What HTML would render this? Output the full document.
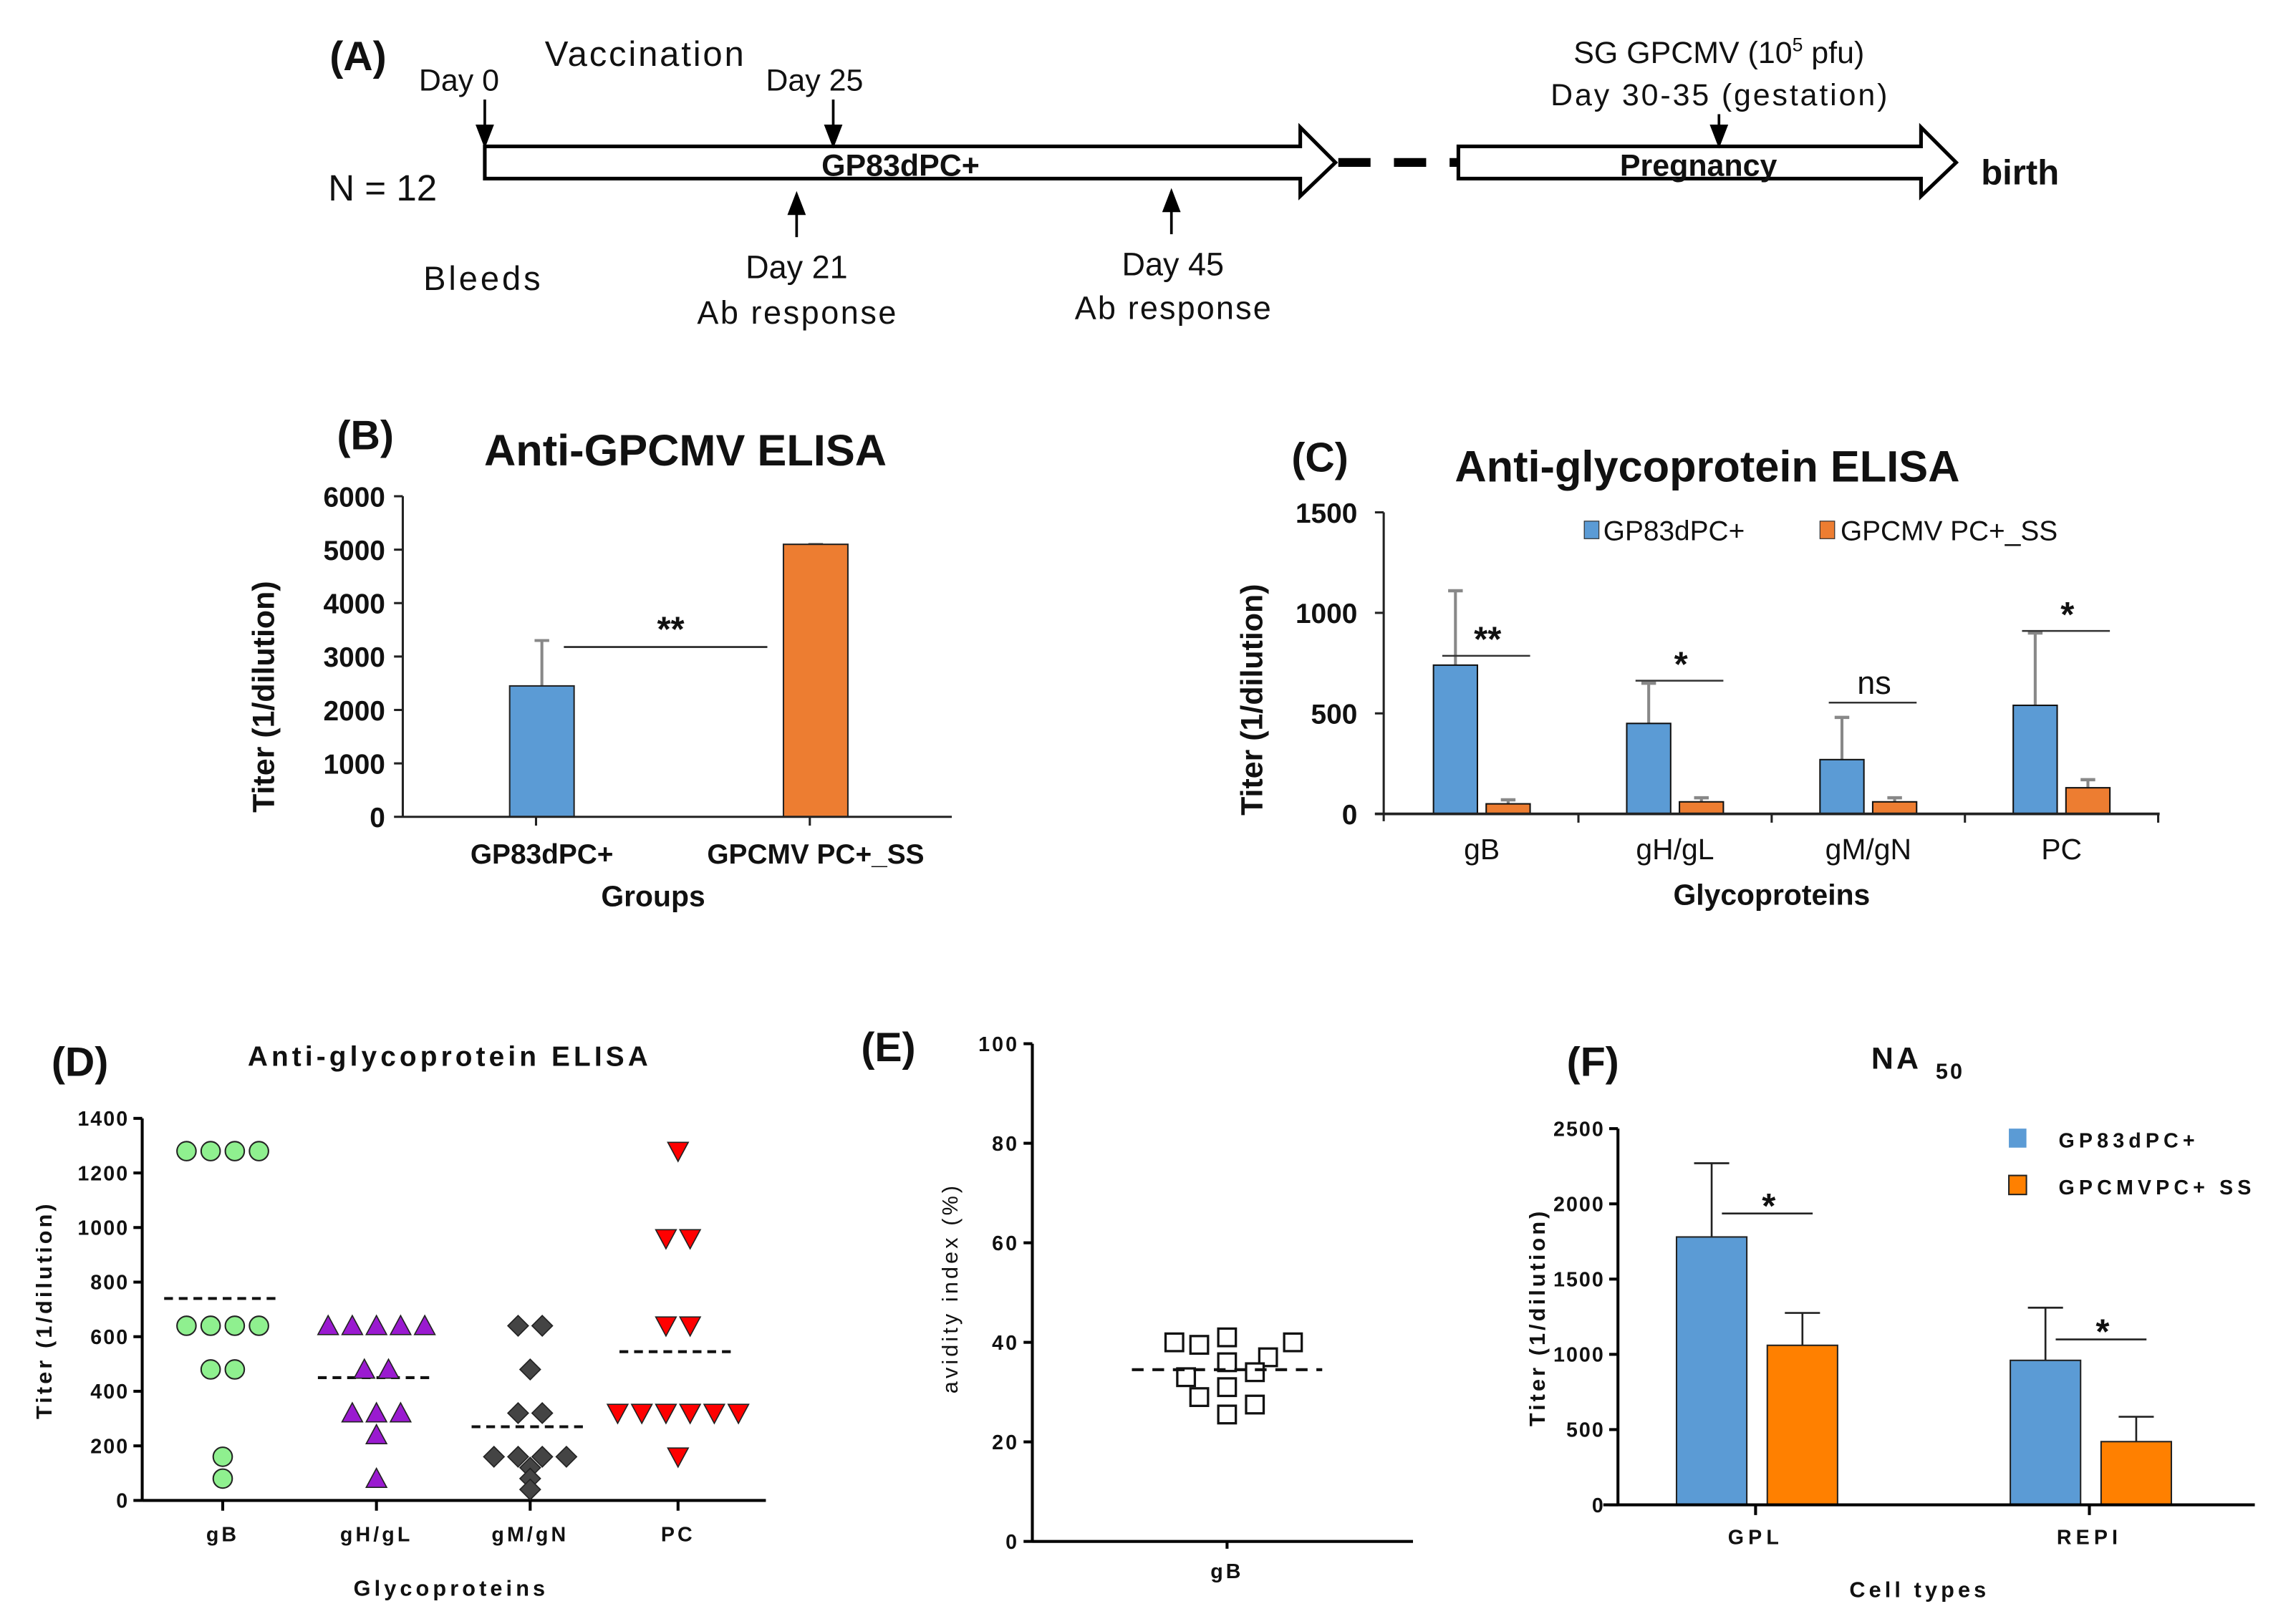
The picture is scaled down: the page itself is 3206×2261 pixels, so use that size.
<!DOCTYPE html>
<html><head><meta charset="utf-8"><style>
html,body{margin:0;padding:0;background:#fff}
svg{display:block}
text{font-family:"Liberation Sans",Arial,sans-serif;fill:#111}
</style></head><body>
<svg id="fig" width="3206" height="2261" viewBox="0 0 1568 1106" xmlns="http://www.w3.org/2000/svg">
<g>
<text x="225" y="48" font-size="28" font-weight="bold">(A)</text>
<text x="286" y="62" font-size="21">Day 0</text>
<text x="372" y="45" font-size="24" textLength="136">Vaccination</text>
<text x="523" y="62" font-size="21">Day 25</text>
<text x="224" y="137" font-size="25">N = 12</text>
<text x="289" y="198" font-size="23" textLength="80">Bleeds</text>
<text x="544" y="190" font-size="22" text-anchor="middle">Day 21</text>
<text x="544" y="221" font-size="22" text-anchor="middle" textLength="136">Ab response</text>
<text x="801" y="188" font-size="22" text-anchor="middle">Day 45</text>
<text x="801" y="218" font-size="22" text-anchor="middle" textLength="134">Ab response</text>
<text x="1174" y="43" font-size="21" text-anchor="middle">SG GPCMV (10<tspan font-size="13" dy="-8">5</tspan><tspan dy="8"> pfu)</tspan></text>
<text x="1174" y="72" font-size="21" text-anchor="middle" textLength="230">Day 30-35 (gestation)</text>
<path d="M331,100 L888,100 L888,87 L912,111 L888,134 L888,122 L331,122 Z" fill="#fff" stroke="#000" stroke-width="2.5"/>
<text x="615" y="120" font-size="21" font-weight="bold" text-anchor="middle">GP83dPC+</text>
<line x1="914" y1="111" x2="996" y2="111" stroke="#000" stroke-width="6" stroke-dasharray="22,16"/>
<path d="M996,100 L1312,100 L1312,87 L1336,111 L1312,134 L1312,122 L996,122 Z" fill="#fff" stroke="#000" stroke-width="2.5"/>
<text x="1160" y="120" font-size="21" font-weight="bold" text-anchor="middle">Pregnancy</text>
<text x="1353" y="126" font-size="24" font-weight="bold">birth</text>
<g stroke="#000" stroke-width="1.8" fill="#000">
<line x1="331" y1="68" x2="331" y2="90"/><path d="M326,86 L336,86 L331,99 Z"/>
<line x1="569" y1="68" x2="569" y2="90"/><path d="M564,86 L574,86 L569,99 Z"/>
<line x1="1174" y1="78" x2="1174" y2="90"/><path d="M1169,86 L1179,86 L1174,99 Z"/>
<line x1="544" y1="162" x2="544" y2="142"/><path d="M539,146 L549,146 L544,133 Z"/>
<line x1="800" y1="160" x2="800" y2="140"/><path d="M795,144 L805,144 L800,131 Z"/>
</g>
</g>
<g id="pB"></g>
<g id="pC"></g>
<g id="pD"></g>
<g id="pE"></g>
<g id="pF"></g>
</svg>
<script>
// ---- Panel B data
const bGroups = ["GP83dPC+", "GPCMV PC+_SS"];
const bMeans = [2450, 5100];
const bErrors = [850, 0];
const bTicks = [0, 1000, 2000, 3000, 4000, 5000, 6000];
// ---- Panel C data
const cCategories = ["gB", "gH/gL", "gM/gN", "PC"];
const cBlue = [740, 450, 270, 540];
const cBlueErr = [370, 200, 210, 360];
const cOrange = [50, 60, 60, 130];
const cOrangeErr = [20, 20, 20, 40];
const cSig = ["**", "*", "ns", "*"];
const cTicks = [0, 500, 1000, 1500];
// ---- Panel D data
const dCategories = ["gB", "gH/gL", "gM/gN", "PC"];
const dGB = [1280, 1280, 1280, 1280, 640, 640, 640, 640, 480, 480, 160, 80];
const dGH = [640, 640, 640, 640, 640, 480, 480, 320, 320, 320, 240, 80];
const dGM = [640, 640, 480, 320, 320, 160, 160, 160, 160, 120, 80, 40];
const dPC = [1280, 960, 960, 640, 640, 320, 320, 320, 320, 320, 320, 160];
const dMeans = [740, 450, 270, 545];
const dTicks = [0, 200, 400, 600, 800, 1000, 1200, 1400];
// ---- Panel E data
const eValues = [40, 39.5, 41, 40, 36, 37, 33, 34, 29, 31, 27.5, 25.5];
const eMean = 34.5;
const eTicks = [0, 20, 40, 60, 80, 100];
// ---- Panel F data
const fCategories = ["GPL", "REPI"];
const fBlue = [1780, 960];
const fBlueErr = [490, 350];
const fOrange = [1060, 420];
const fOrangeErr = [215, 165];
const fTicks = [0, 500, 1000, 1500, 2000, 2500];

const NS = "http://www.w3.org/2000/svg";
function mk(parent, tag, attrs, txt) {
  const e = document.createElementNS(NS, tag);
  for (const k in attrs) e.setAttribute(k, attrs[k]);
  if (txt !== undefined) e.textContent = txt;
  parent.appendChild(e);
  return e;
}
const BLUE = "#5b9bd5", ORANGE = "#ed7d31", ORANGE2 = "#ff8000";

// ================= Panel B
(function () {
  const g = document.getElementById("pB");
  const x0 = 275, x1 = 650, yTop = 339, yBot = 558, max = 6000;
  const y = v => yBot - (v / max) * (yBot - yTop);
  const cx = [370, 557];
  let t = mk(g, "text", {x: 230, y: 307, "font-size": 28, "font-weight": "bold"}, "(B)");
   
  t = mk(g, "text", {x: 468, y: 318, "font-size": 30, "font-weight": "bold", "text-anchor": "middle"}, "Anti-GPCMV ELISA");
   
  bGroups.forEach((name, i) => {
    const bx = cx[i] - 22, w = 44;
    const col = i === 0 ? BLUE : ORANGE;
    mk(g, "line", {x1: cx[i], x2: cx[i], y1: y(bMeans[i]), y2: y(bMeans[i] + bErrors[i]), stroke: "#888", "stroke-width": 2});
    mk(g, "line", {x1: cx[i] - 5, x2: cx[i] + 5, y1: y(bMeans[i] + bErrors[i]), y2: y(bMeans[i] + bErrors[i]), stroke: "#888", "stroke-width": 2});
    const r = mk(g, "rect", {x: bx, y: y(bMeans[i]), width: w, height: yBot - y(bMeans[i]), fill: col, stroke: "#222", "stroke-width": 1});
    
    
    const lb = mk(g, "text", {x: cx[i], y: 590, "font-size": 19, "font-weight": "bold", "text-anchor": "middle"}, name);
     
    mk(g, "line", {x1: cx[i] - 4, x2: cx[i] - 4, y1: yBot, y2: yBot + 6, stroke: "#222", "stroke-width": 1.5});
  });
  mk(g, "line", {x1: 385, x2: 524, y1: 442, y2: 442, stroke: "#222", "stroke-width": 1.3});
  t = mk(g, "text", {x: 458, y: 438, "font-size": 24, "font-weight": "bold", "text-anchor": "middle"}, "**");
   
  mk(g, "line", {x1: x0, x2: x0, y1: yTop, y2: yBot, stroke: "#222", "stroke-width": 1.5});
  mk(g, "line", {x1: x0, x2: x1, y1: yBot, y2: yBot, stroke: "#222", "stroke-width": 1.5});
  bTicks.forEach(v => {
    mk(g, "line", {x1: x0 - 6, x2: x0, y1: y(v), y2: y(v), stroke: "#222", "stroke-width": 1.5});
    const tl = mk(g, "text", {x: x0 - 12, y: y(v) + 7, "font-size": 19, "font-weight": "bold", "text-anchor": "end"}, v);
     
  });
  t = mk(g, "text", {x: 446, y: 619, "font-size": 20, "font-weight": "bold", "text-anchor": "middle"}, "Groups");
   
  t = mk(g, "text", {transform: "translate(187,476) rotate(-90)", "font-size": 21, "font-weight": "bold", "text-anchor": "middle"}, "Titer (1/dilution)");
   
})();

// ================= Panel C
(function () {
  const g = document.getElementById("pC");
  const x0 = 945, x1 = 1475, yTop = 350, yBot = 556, max = 1500;
  const y = v => yBot - (v / max) * (yBot - yTop);
  const step = 132, first = 1012;
  let t = mk(g, "text", {x: 882, y: 322, "font-size": 28, "font-weight": "bold"}, "(C)");
   
  t = mk(g, "text", {x: 1166, y: 329, "font-size": 30, "font-weight": "bold", "text-anchor": "middle"}, "Anti-glycoprotein ELISA");
   
  let lg = mk(g, "rect", {x: 1082, y: 356, width: 10, height: 12, fill: BLUE, stroke: "#333", "stroke-width": 0.6});
   
  lg = mk(g, "text", {x: 1095, y: 369, "font-size": 19}, "GP83dPC+");
   
  lg = mk(g, "rect", {x: 1243, y: 356, width: 10, height: 12, fill: ORANGE, stroke: "#333", "stroke-width": 0.6});
   
  lg = mk(g, "text", {x: 1257, y: 369, "font-size": 19}, "GPCMV PC+_SS");
   
  const sigY = [448, 465, 480, 431];
  cCategories.forEach((c, i) => {
    const cx = first + i * step;
    const bars = [[cx - 33, cBlue[i], cBlueErr[i], BLUE], [cx + 3, cOrange[i], cOrangeErr[i], ORANGE]];
    bars.forEach(([bx, v, e, col], j) => {
      const w = 30, mx = bx + w / 2;
      mk(g, "line", {x1: mx, x2: mx, y1: y(v), y2: y(v + e), stroke: "#888", "stroke-width": 2});
      mk(g, "line", {x1: mx - 5, x2: mx + 5, y1: y(v + e), y2: y(v + e), stroke: "#888", "stroke-width": 2.2});
      const r = mk(g, "rect", {x: bx, y: y(v), width: w, height: yBot - y(v), fill: col, stroke: "#111", "stroke-width": 1});
      
      
    });
    const sy = sigY[i];
    mk(g, "line", {x1: cx - 27, x2: cx + 33, y1: sy, y2: sy, stroke: "#333", "stroke-width": 1.2});
    const s = mk(g, "text", {x: cx + 4, y: cSig[i] === "ns" ? sy - 6 : sy - 3, "font-size": cSig[i] === "ns" ? 22 : 24, "font-weight": cSig[i] === "ns" ? "normal" : "bold", "text-anchor": "middle"}, cSig[i]);
     
    const lb = mk(g, "text", {x: cx, y: 587, "font-size": 20, "text-anchor": "middle"}, c);
     
    mk(g, "line", {x1: cx + step / 2, x2: cx + step / 2, y1: yBot, y2: yBot + 6, stroke: "#222", "stroke-width": 1.5});
  });
  mk(g, "line", {x1: x0, x2: x0, y1: yTop, y2: yBot + 5, stroke: "#222", "stroke-width": 1.5});
  mk(g, "line", {x1: x0 - 6, x2: x1, y1: yBot, y2: yBot, stroke: "#222", "stroke-width": 1.8});
  cTicks.forEach(v => {
    mk(g, "line", {x1: x0 - 6, x2: x0, y1: y(v), y2: y(v), stroke: "#222", "stroke-width": 1.5});
    const tl = mk(g, "text", {x: x0 - 18, y: y(v) + 7, "font-size": 19, "font-weight": "bold", "text-anchor": "end"}, v);
     
  });
  t = mk(g, "text", {x: 1210, y: 618, "font-size": 20, "font-weight": "bold", "text-anchor": "middle"}, "Glycoproteins");
   
  t = mk(g, "text", {transform: "translate(862,478) rotate(-90)", "font-size": 21, "font-weight": "bold", "text-anchor": "middle"}, "Titer (1/dilution)");
   
})();

// ================= Panel D
(function () {
  const g = document.getElementById("pD");
  const x0 = 97, x1 = 523, yTop = 764, yBot = 1025, max = 1400;
  const y = v => yBot - (v / max) * (yBot - yTop);
  const cxs = [152, 257, 362, 463];
  const series = [dGB, dGH, dGM, dPC];
  const sp = 16.5;
  let t = mk(g, "text", {x: 35, y: 735, "font-size": 28, "font-weight": "bold"}, "(D)");
   
  t = mk(g, "text", {x: 307, y: 728, "font-size": 19, "font-weight": "bold", "text-anchor": "middle", "letter-spacing": "2.5"}, "Anti-glycoprotein ELISA");
   
  mk(g, "line", {x1: x0, x2: x0, y1: yTop, y2: yBot, stroke: "#000", "stroke-width": 2});
  mk(g, "line", {x1: x0, x2: x1, y1: yBot, y2: yBot, stroke: "#000", "stroke-width": 2});
  dTicks.forEach(v => {
    mk(g, "line", {x1: x0 - 6, x2: x0, y1: y(v), y2: y(v), stroke: "#000", "stroke-width": 2});
    const tl = mk(g, "text", {x: x0 - 9, y: y(v) + 5, "font-size": 14, "font-weight": "bold", "text-anchor": "end", "letter-spacing": "1"}, v);
     
  });
  series.forEach((vals, i) => {
    const cx = cxs[i];
    const counts = {}, seen = {};
    vals.forEach(v => counts[v] = (counts[v] || 0) + 1);
    mk(g, "line", {x1: cx, x2: cx, y1: yBot, y2: yBot + 7, stroke: "#000", "stroke-width": 2});
    const lb = mk(g, "text", {x: cx, y: 1053, "font-size": 14, "font-weight": "bold", "text-anchor": "middle", "letter-spacing": "2"}, dCategories[i]);
     
    const m = mk(g, "line", {x1: cx - 40, x2: cx + 40, y1: y(dMeans[i]), y2: y(dMeans[i]), stroke: "#111", "stroke-width": 2, "stroke-dasharray": "6,4"});
    
    
    vals.forEach(v => {
      const k = seen[v] = (seen[v] === undefined ? 0 : seen[v] + 1);
      const px = cx + (k - (counts[v] - 1) / 2) * sp, py = y(v);
      let el;
      if (i === 0) el = mk(g, "circle", {cx: px, cy: py, r: 6.5, fill: "#8ff08f", stroke: "#222", "stroke-width": 1});
      else if (i === 1) el = mk(g, "path", {d: `M${px - 7},${py + 6} L${px + 7},${py + 6} L${px},${py - 7} Z`, fill: "#9a1ad0", stroke: "#222", "stroke-width": 0.8});
      else if (i === 2) el = mk(g, "path", {d: `M${px},${py - 7} L${px + 7},${py} L${px},${py + 7} L${px - 7},${py} Z`, fill: "#444", stroke: "#222", "stroke-width": 0.8});
      else el = mk(g, "path", {d: `M${px - 7},${py - 6} L${px + 7},${py - 6} L${px},${py + 7} Z`, fill: "#f00", stroke: "#222", "stroke-width": 0.8});
      
      
    });
  });
  t = mk(g, "text", {x: 308, y: 1090, "font-size": 15, "font-weight": "bold", "text-anchor": "middle", "letter-spacing": "2.5"}, "Glycoproteins");
   
  t = mk(g, "text", {transform: "translate(35,895) rotate(-90)", "font-size": 15, "font-weight": "bold", "text-anchor": "middle", "letter-spacing": "2"}, "Titer (1/dilution)");
   
})();

// ================= Panel E
(function () {
  const g = document.getElementById("pE");
  const x0 = 705, x1 = 965, yTop = 713, yBot = 1053, max = 100, cx = 838;
  const y = v => yBot - (v / max) * (yBot - yTop);
  const jitter = [-36, -19, 0, 45, 0, 28, -28, 19, -19, 0, 19, 0];
  let t = mk(g, "text", {x: 588, y: 725, "font-size": 28, "font-weight": "bold"}, "(E)");
   
  mk(g, "line", {x1: x0, x2: x0, y1: yTop, y2: yBot, stroke: "#000", "stroke-width": 2});
  mk(g, "line", {x1: x0, x2: x1, y1: yBot, y2: yBot, stroke: "#000", "stroke-width": 2});
  eTicks.forEach(v => {
    mk(g, "line", {x1: x0 - 6, x2: x0, y1: y(v), y2: y(v), stroke: "#000", "stroke-width": 2});
    const tl = mk(g, "text", {x: x0 - 9, y: y(v) + 5, "font-size": 14, "font-weight": "bold", "text-anchor": "end", "letter-spacing": "1.5"}, v);
     
  });
  mk(g, "line", {x1: cx, x2: cx, y1: yBot, y2: yBot + 5, stroke: "#000", "stroke-width": 2});
  const lb = mk(g, "text", {x: cx, y: 1078, "font-size": 14, "font-weight": "bold", "text-anchor": "middle", "letter-spacing": "2"}, "gB");
   
  eValues.forEach((v, i) => {
    const px = cx + jitter[i], py = y(v);
    const r = mk(g, "rect", {x: px - 6, y: py - 6, width: 12, height: 12, fill: "#fff", stroke: "#111", "stroke-width": 1.6});
     
  });
  const m = mk(g, "line", {x1: cx - 65, x2: cx + 65, y1: y(eMean), y2: y(eMean), stroke: "#111", "stroke-width": 2, "stroke-dasharray": "8,6"});
   
  t = mk(g, "text", {transform: "translate(654,880) rotate(-90)", "font-size": 15, "text-anchor": "middle", "letter-spacing": "2"}, "avidity index (%)");
   
})();

// ================= Panel F
(function () {
  const g = document.getElementById("pF");
  const x0 = 1105, x1 = 1540, yTop = 771, yBot = 1028, max = 2500;
  const y = v => yBot - (v / max) * (yBot - yTop);
  const cxs = [1199, 1427];
  let t = mk(g, "text", {x: 1070, y: 735, "font-size": 28, "font-weight": "bold"}, "(F)");
   
  t = mk(g, "text", {x: 1278, y: 730, "font-size": 21, "font-weight": "bold", "letter-spacing": "2"}, "NA");
   
  t = mk(g, "text", {x: 1322, y: 737, "font-size": 15, "font-weight": "bold", "letter-spacing": "1.5"}, "50");
   
  let lg = mk(g, "rect", {x: 1372, y: 771, width: 12, height: 13, fill: BLUE});
   
  lg = mk(g, "text", {x: 1406, y: 784, "font-size": 14, "font-weight": "bold", "letter-spacing": "3"}, "GP83dPC+");
   
  lg = mk(g, "rect", {x: 1372, y: 803, width: 12, height: 13, fill: ORANGE2, stroke: "#222", "stroke-width": 1});
   
  lg = mk(g, "text", {x: 1406, y: 816, "font-size": 14, "font-weight": "bold", "letter-spacing": "3"}, "GPCMVPC+ SS");
   
  fCategories.forEach((c, i) => {
    const cx = cxs[i];
    const bars = [[cx - 54, fBlue[i], fBlueErr[i], BLUE], [cx + 8, fOrange[i], fOrangeErr[i], ORANGE2]];
    bars.forEach(([bx, v, e, col], j) => {
      const w = 48, mx = bx + w / 2;
      mk(g, "line", {x1: mx, x2: mx, y1: y(v), y2: y(v + e), stroke: "#222", "stroke-width": 1.3});
      mk(g, "line", {x1: mx - 12, x2: mx + 12, y1: y(v + e), y2: y(v + e), stroke: "#222", "stroke-width": 1.3});
      const r = mk(g, "rect", {x: bx, y: y(v), width: w, height: yBot - y(v), fill: col, stroke: "#222", "stroke-width": 1});
      
      
    });
    mk(g, "line", {x1: cx - 23, x2: cx + 39, y1: [829, 915][i], y2: [829, 915][i], stroke: "#222", "stroke-width": 1.3});
    const s = mk(g, "text", {x: cx + 9, y: [832, 918][i], "font-size": 24, "font-weight": "bold", "text-anchor": "middle"}, "*");
     
    mk(g, "line", {x1: cx, x2: cx, y1: yBot, y2: yBot + 7, stroke: "#000", "stroke-width": 2});
    const lb = mk(g, "text", {x: cx, y: 1055, "font-size": 14, "font-weight": "bold", "text-anchor": "middle", "letter-spacing": "3"}, c);
     
  });
  mk(g, "line", {x1: x0, x2: x0, y1: yTop, y2: yBot, stroke: "#000", "stroke-width": 2});
  mk(g, "line", {x1: x0 - 10, x2: x1, y1: yBot, y2: yBot, stroke: "#000", "stroke-width": 2});
  fTicks.forEach(v => {
    mk(g, "line", {x1: x0 - 6, x2: x0, y1: y(v), y2: y(v), stroke: "#000", "stroke-width": 2});
    const tl = mk(g, "text", {x: x0 - 9, y: y(v) + 5, "font-size": 14, "font-weight": "bold", "text-anchor": "end", "letter-spacing": "1"}, v);
     
  });
  t = mk(g, "text", {x: 1311, y: 1091, "font-size": 15, "font-weight": "bold", "text-anchor": "middle", "letter-spacing": "2.5"}, "Cell types");
   
  t = mk(g, "text", {transform: "translate(1055,900) rotate(-90)", "font-size": 15, "font-weight": "bold", "text-anchor": "middle", "letter-spacing": "2"}, "Titer (1/dilution)");
   
})();
</script>
</body></html>
